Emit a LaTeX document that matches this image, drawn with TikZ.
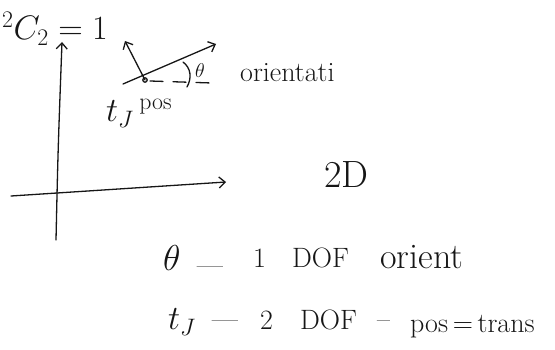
\RequirePackage{fix-cm}
\documentclass[tikz,border=0pt]{standalone}
\usepackage{xcolor}
\definecolor{ink}{RGB}{22, 22, 22}
\usepackage{tikz}
\usetikzlibrary{arrows.meta, positioning}
\tikzset{
  pen/.style={draw=ink, line width=1.3pt, line cap=round, line join=round},
  penarrow/.style={pen, -{Straight Barb[length=6pt, width=11pt, line width=1.3pt]}},
  dashpen/.style={pen, dash pattern=on 13pt off 10pt},
  jot/.style={text=ink, inner sep=0pt, anchor=base west,
    font=\fontsize{28}{30}\selectfont},
  bigjot/.style={jot, font=\fontsize{34}{36}\selectfont},
  smalljot/.style={jot, font=\fontsize{20}{22}\selectfont}
}

\begin{document}
\begin{tikzpicture}[x=1pt, y=-1pt]

  \useasboundingbox (0,0) rectangle (555,350);

  % frame sketch
  \coordinate (yfoot) at (56,240);
  \coordinate (ytip) at (62,42);
  \coordinate (xfoot) at (11,196);
  \coordinate (xtip) at (226,182);

  % body pose
  \coordinate (pivot) at (145,80);
  \coordinate (tail) at (123,84);
  \coordinate (heading) at (216,44);
  \coordinate (normaltip) at (125,41);
  \coordinate (dashstart) at (150,81);
  \coordinate (dashend) at (212,83);
  \coordinate (arcfoot) at (187,87);
  \coordinate (arctop) at (183,62);

  \node[bigjot] (rotcount) at (2,40) {$^{2}C_{2} = 1$};
  \node[smalljot] (thetatop) at (195,78) {$\theta$};
  \node[jot] (orienttxt) at (240,82) {orientati};
  \node[bigjot] (tpos) at (106,122) {$t_{J}\,{}^{\mathrm{pos}}$};
  \node[bigjot, font=\fontsize{38}{40}\selectfont] (twod) at (324,188) {2D};

  % degrees of freedom
  \node[jot, font=\fontsize{36}{38}\selectfont] (thetaA) at (163,271) {$\theta$};
  \node[jot] (dashA) at (197,275) {---};
  \node[jot] (oneA) at (253,268) {1};
  \node[jot] (dofA) at (292,268) {DOF};
  \node[jot, font=\fontsize{36}{38}\selectfont] (orientA) at (380,269) {orient};

  \node[bigjot] (tJ) at (168,330) {$t_J$};
  \node[jot] (dashB) at (212,328) {---};
  \node[jot] (twoB) at (260,330) {2};
  \node[jot] (dofB) at (300,330) {DOF};
  \node[jot] (dashC) at (377,328) {--};
  \node[jot] (postrans) at (410,332) {pos\,=\,trans};

  \draw[penarrow] (yfoot) .. controls (58,150) .. (ytip);
  \draw[penarrow] (xfoot) -- (xtip);
  \draw[penarrow] (tail) -- (heading);
  \draw[penarrow] (pivot) -- (normaltip);
  \draw[pen] (pivot) circle[radius=2.2pt];
  \draw[dashpen] (dashstart) -- (dashend);
  \draw[pen] (arcfoot) .. controls (192,78) and (191,68) .. (arctop);

\end{tikzpicture}
\end{document}
